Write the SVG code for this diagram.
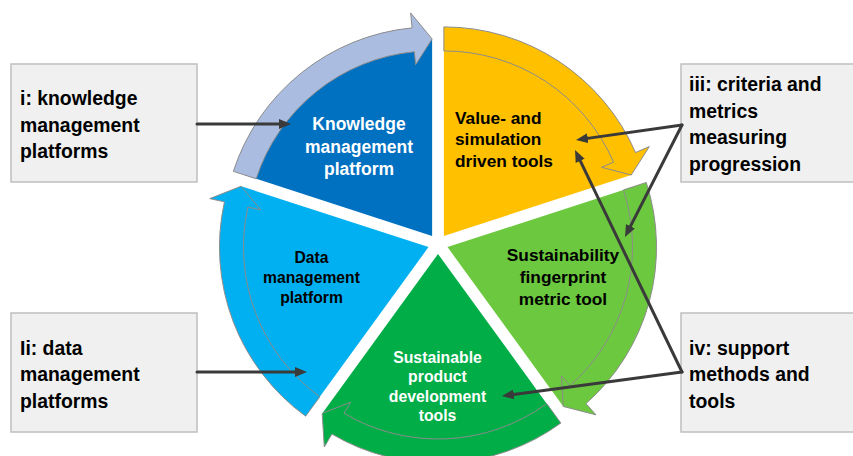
<svg xmlns="http://www.w3.org/2000/svg" width="853" height="456" viewBox="0 0 853 456">
<style>
.band{stroke:#8c8c8c;stroke-width:1}
.wt{font-family:"Liberation Sans",Arial,sans-serif;font-weight:bold;fill:#ffffff}
.bt{font-family:"Liberation Sans",Arial,sans-serif;font-weight:bold;fill:#000000}
.box{fill:#f0f0f0;stroke:#bfbfbf;stroke-width:1.5}
.bx{font-family:"Liberation Sans",Arial,sans-serif;font-weight:bold;font-size:19.4px;fill:#000000}
.con{stroke:#3a3a3a;stroke-width:3;fill:none;stroke-linecap:round;marker-end:url(#ah)}
</style>
<defs>
<marker id="ah" viewBox="0 0 12 10" refX="4" refY="5" markerWidth="12" markerHeight="10" markerUnits="userSpaceOnUse" orient="auto">
<path d="M0,0 L12,5 L0,10 Z" fill="#3a3a3a"/>
</marker>
</defs>
<rect width="853" height="456" fill="#ffffff"/>

<g id="knowledge-platform">
<path d="M432.12,235.91 L244.76,175.03 A197,197 0 0,1 432.12,38.91 Z" fill="#0070c0"/>
<path class="band" fill="#aabcdf" d="M233.35,171.32 A209,209 0 0,1 412.09,27.87 L410.65,12.94 L432.12,38.91 L415.63,64.70 L414.39,51.76 A185,185 0 0,0 256.17,178.74 Z"/>
<text class="wt" font-size="17.5" text-anchor="middle"><tspan x="359" y="130">Knowledge</tspan><tspan x="359" y="152.5">management</tspan><tspan x="359" y="175">platform</tspan></text>
</g>

<g id="value-simulation-tools">
<path d="M443.88,235.91 L443.88,38.91 A197,197 0 0,1 631.24,175.03 Z" fill="#ffc000"/>
<path class="band" fill="#ffc000" d="M443.88,26.91 A209,209 0 0,1 635.55,152.57 L649.30,146.59 L631.24,175.03 L601.61,167.32 L613.54,162.14 A185,185 0 0,0 443.88,50.91 Z"/>
<text class="bt" font-size="17.3"><tspan x="455" y="123.5">Value- and</tspan><tspan x="455" y="145">simulation</tspan><tspan x="455" y="166.5">driven tools</tspan></text>
</g>

<g id="fingerprint-metric-tool">
<path d="M447.51,247.09 L634.87,186.21 A197,197 0 0,1 563.30,406.47 Z" fill="#6cc83f"/>
<path class="band" fill="#6cc83f" d="M646.28,182.50 A209,209 0 0,1 586.00,403.62 L595.94,414.86 L563.30,406.47 L561.48,375.91 L570.09,385.65 A185,185 0 0,0 623.46,189.92 Z"/>
<text class="bt" font-size="17.3" text-anchor="middle"><tspan x="563" y="261">Sustainability</tspan><tspan x="563" y="283">fingerprint</tspan><tspan x="563" y="305">metric tool</tspan></text>
</g>

<g id="product-development-tools">
<path d="M438,254 L553.79,413.38 A197,197 0 0,1 322.21,413.38 Z" fill="#00ad47"/>
<path class="band" fill="#00ad47" d="M560.85,423.09 A209,209 0 0,1 331.92,434.08 L324.31,447.01 L322.21,413.38 L350.70,402.20 L344.11,413.40 A185,185 0 0,0 546.74,403.67 Z"/>
<text class="wt" font-size="15.8" text-anchor="middle"><tspan x="437.5" y="362.5">Sustainable</tspan><tspan x="437.5" y="382">product</tspan><tspan x="437.5" y="401.5">development</tspan><tspan x="437.5" y="421">tools</tspan></text>
</g>

<g id="data-platform">
<path d="M428.49,247.09 L312.70,406.47 A197,197 0 0,1 241.13,186.21 Z" fill="#00b0f0"/>
<path class="band" fill="#00b0f0" d="M305.64,416.18 A209,209 0 0,1 224.44,201.85 L209.80,198.61 L241.13,186.21 L260.57,209.86 L247.87,207.05 A185,185 0 0,0 319.75,396.76 Z"/>
<text class="bt" font-size="15.7" text-anchor="middle"><tspan x="311.5" y="262.5">Data</tspan><tspan x="311.5" y="282.5">management</tspan><tspan x="311.5" y="302.5">platform</tspan></text>
</g>

<g id="box-i">
<rect class="box" x="11" y="64" width="186" height="118"/>
<text class="bx"><tspan x="20" y="105">i: knowledge</tspan><tspan x="20" y="131.5">management</tspan><tspan x="20" y="158">platforms</tspan></text>
</g>

<g id="box-ii">
<rect class="box" x="11" y="313" width="186" height="119"/>
<text class="bx"><tspan x="20" y="354.5">Ii: data</tspan><tspan x="20" y="381">management</tspan><tspan x="20" y="407.5">platforms</tspan></text>
</g>

<g id="box-iii">
<rect class="box" x="681" y="64" width="180" height="118"/>
<text class="bx"><tspan x="689" y="91">iii: criteria and</tspan><tspan x="689" y="117.5">metrics</tspan><tspan x="689" y="144">measuring</tspan><tspan x="689" y="170.5">progression</tspan></text>
</g>

<g id="box-iv">
<rect class="box" x="681" y="313" width="180" height="119"/>
<text class="bx"><tspan x="689" y="354.5">iv: support</tspan><tspan x="689" y="381">methods and</tspan><tspan x="689" y="407.5">tools</tspan></text>
</g>

<g id="connectors">
<path class="con" d="M197,124 L283,124"/>
<path class="con" d="M197,372 L299,372"/>
<path class="con" d="M682,125 L583.92,138.88"/>
<path class="con" d="M682,125 L628.63,229.87"/>
<path class="con" d="M682,372 L578.47,157.21"/>
<path class="con" d="M682,372 L509.93,394.94"/>
</g>
</svg>
